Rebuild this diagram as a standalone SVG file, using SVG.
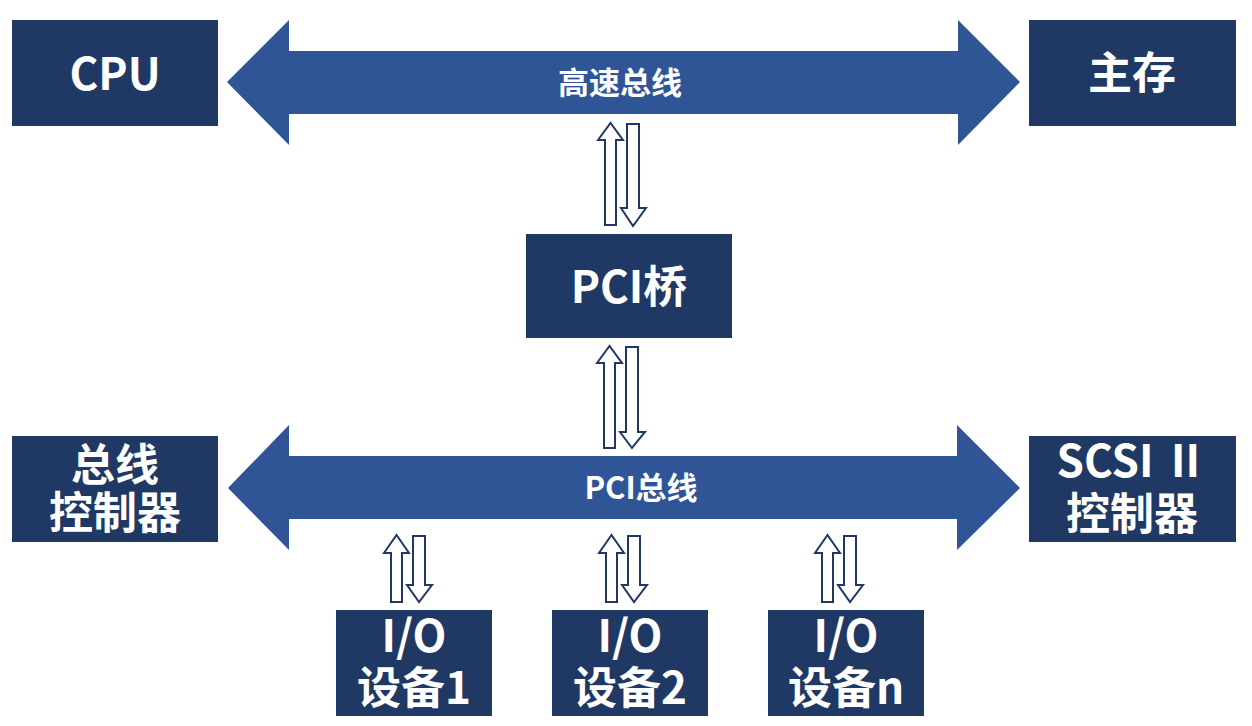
<svg xmlns="http://www.w3.org/2000/svg" width="1252" height="726" viewBox="0 0 1252 726">
<style>
.node{fill:#203864;}
.bus{fill:#2F5597;}
.sa{fill:#FFFFFF;stroke:#203864;stroke-width:2;stroke-linejoin:miter;}
.t{font-family:"Noto Sans CJK SC","Microsoft YaHei","Noto Sans",sans-serif;font-weight:700;fill:#FFFFFF;text-anchor:middle;}
.nt{font-size:44px;}
.bt{font-size:31px;}
</style>
<rect width="1252" height="726" fill="#FFFFFF"/>
<g id="connectors">
<g id="bus-high">
<polygon class="bus" points="227,82 289,20 289,51 958,51 958,20 1020,82 958,145 958,114 289,114 289,145"/>
<text class="t bt" x="620" y="94">高速总线</text>
</g>
<g id="bus-pci">
<polygon class="bus" points="228,488 289,425 289,456 957,456 957,425 1020,488 957,550 957,519 289,519 289,550"/>
<text class="t bt" x="641" y="499">PCI总线</text>
</g>
<path class="sa" d="M598,140 L610.5,123 L623,140 L616,140 L616,225 L605,225 L605,140 Z"/>
<path class="sa" d="M627,124 L639,124 L639,208 L646,208 L633,226 L621,208 L627,208 Z"/>
<path class="sa" d="M597,363 L609.5,346 L622,363 L615,363 L615,448 L604,448 L604,363 Z"/>
<path class="sa" d="M626,347 L638,347 L638,432 L645,432 L632,448 L620,432 L626,432 Z"/>
<path class="sa" d="M384,553 L396.5,535 L409,553 L402,553 L402,602 L391,602 L391,553 Z"/>
<path class="sa" d="M413,536 L425,536 L425,585 L432,585 L419,602 L407,585 L413,585 Z"/>
<path class="sa" d="M599,553 L611.5,535 L624,553 L617,553 L617,602 L606,602 L606,553 Z"/>
<path class="sa" d="M628,536 L640,536 L640,585 L647,585 L634,602 L622,585 L628,585 Z"/>
<path class="sa" d="M815,553 L827.5,535 L840,553 L833,553 L833,602 L822,602 L822,553 Z"/>
<path class="sa" d="M844,536 L856,536 L856,585 L863,585 L850,602 L838,585 L844,585 Z"/>
</g>
<g id="cpu">
<rect class="node" x="12" y="20" width="206" height="106"/>
<text class="t nt" x="115" y="90">CPU</text>
</g>
<g id="mem">
<rect class="node" x="1029" y="20" width="207" height="106"/>
<text class="t nt" x="1132" y="89">主存</text>
</g>
<g id="pcibridge">
<rect class="node" x="526" y="234" width="206" height="104"/>
<text class="t nt" x="629" y="303">PCI桥</text>
</g>
<g id="busctrl">
<rect class="node" x="12" y="436" width="206" height="106"/>
<text class="t nt" x="115" y="481">总线</text>
<text class="t nt" x="115" y="529">控制器</text>
</g>
<g id="scsi">
<rect class="node" x="1029" y="436" width="207" height="106"/>
<text class="t nt" x="1132" y="477">SCSI Ⅱ</text>
<text class="t nt" x="1132" y="530">控制器</text>
</g>
<g id="io1">
<rect class="node" x="336" y="610" width="156" height="106"/>
<text class="t nt" x="414" y="652">I/O</text>
<text class="t nt" x="414" y="704">设备1</text>
</g>
<g id="io2">
<rect class="node" x="552" y="610" width="156" height="106"/>
<text class="t nt" x="630" y="652">I/O</text>
<text class="t nt" x="630" y="704">设备2</text>
</g>
<g id="ion">
<rect class="node" x="768" y="610" width="156" height="106"/>
<text class="t nt" x="846" y="652">I/O</text>
<text class="t nt" x="846" y="704">设备n</text>
</g>
</svg>
